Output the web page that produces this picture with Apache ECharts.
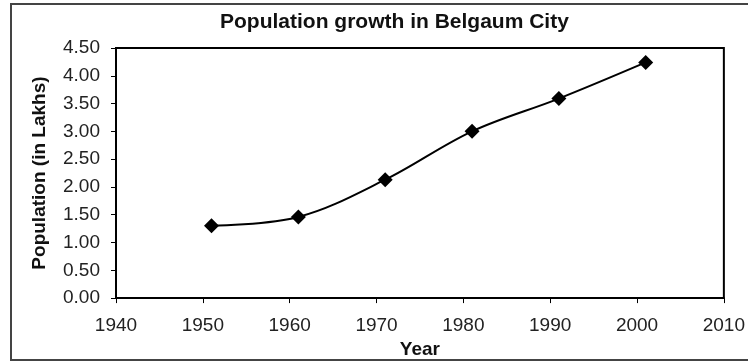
<!DOCTYPE html>
<html>
<head>
<meta charset="utf-8">
<style>
  html, body { margin: 0; padding: 0; background: #fff; }
  #chart { width: 748px; height: 364px; }
</style>
<script src="https://cdn.jsdelivr.net/npm/echarts@6/dist/echarts.min.js"></script>
</head>
<body>
<div id="chart"></div>
<script>
// Census years and city population (in lakhs)
const years = [1951, 1961, 1971, 1981, 1991, 2001];
const population = [1.30, 1.46, 2.13, 3.00, 3.59, 4.24];

const titleText = 'Population growth in Belgaum City';
const xAxisName = 'Year';
const yAxisName = 'Population (in Lakhs)';

const FONT = '"Liberation Sans", Arial, Helvetica, sans-serif';

const chart = echarts.init(document.getElementById('chart'), null, { renderer: 'canvas' });

chart.setOption({
  animation: false,
  backgroundColor: '#fff',
  title: {
    text: titleText,
    left: 220,
    top: 12,
    padding: 0,
    textStyle: { fontFamily: FONT, fontSize: 21, fontWeight: 'bold', color: '#111' }
  },
  graphic: [{
    type: 'rect',
    shape: { x: 11, y: 4, width: 760, height: 356 },
    style: { fill: 'none', stroke: '#444', lineWidth: 2 },
    silent: true
  }],
  grid: {
    left: 116, right: 21, top: 48, bottom: 60,
    show: true, borderColor: '#000', borderWidth: 2, backgroundColor: '#fff'
  },
  xAxis: {
    type: 'value',
    min: 1940, max: 2010, interval: 10,
    name: xAxisName,
    nameLocation: 'middle',
    nameGap: 41,
    nameTextStyle: { fontFamily: FONT, fontSize: 19, fontWeight: 'bold', color: '#111' },
    axisLine: { show: true, lineStyle: { color: '#000', width: 2 } },
    axisTick: { show: true, inside: false, length: 5, lineStyle: { color: '#000', width: 1 } },
    axisLabel: {
      margin: 18, fontFamily: FONT, fontSize: 19, color: '#222',
      formatter: v => String(v)
    },
    splitLine: { show: false }
  },
  yAxis: {
    type: 'value',
    min: 0, max: 4.5, interval: 0.5,
    name: yAxisName,
    nameLocation: 'middle',
    nameGap: 67,
    nameTextStyle: { fontFamily: FONT, fontSize: 19, fontWeight: 'bold', color: '#111' },
    axisLine: { show: true, lineStyle: { color: '#000', width: 2 } },
    axisTick: { show: true, inside: false, length: 5, lineStyle: { color: '#000', width: 1 } },
    axisLabel: {
      margin: 16, fontFamily: FONT, fontSize: 19, color: '#222',
      formatter: v => v.toFixed(2)
    },
    splitLine: { show: false }
  },
  series: [{
    type: 'line',
    data: years.map((y, i) => [y, population[i]]),
    smooth: 0.35,
    symbol: 'diamond',
    symbolSize: 15,
    lineStyle: { color: '#000', width: 2 },
    itemStyle: { color: '#000' }
  }]
});
</script>
</body>
</html>
